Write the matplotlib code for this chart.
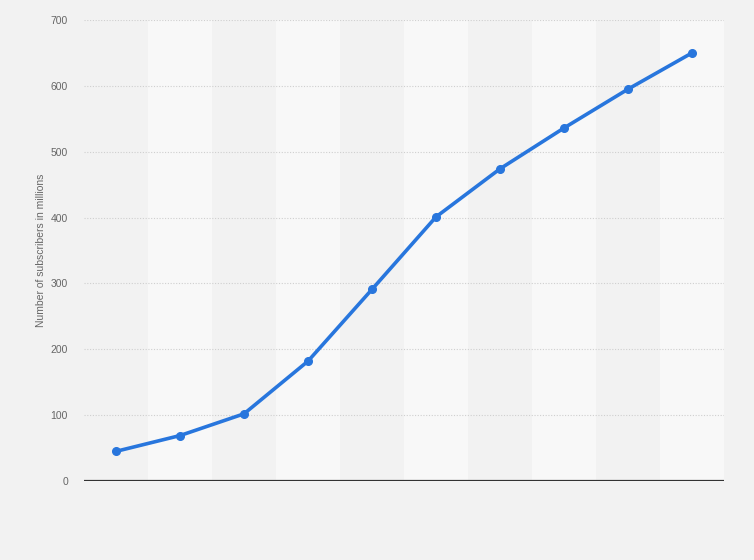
import matplotlib.pyplot as plt

plt.rcParams["font.family"] = ["Liberation Sans", "DejaVu Sans"]

# values (no x labels shown in the original)
positions = list(range(10))
subscribers = [45, 69, 102, 182, 291, 401, 474, 536, 595, 650]
y_ticks = [0, 100, 200, 300, 400, 500, 600, 700]

fig = plt.figure(figsize=(7.54, 5.6), dpi=100)
fig.patch.set_facecolor("#f2f2f2")
ax = fig.add_axes([84 / 754, 79 / 560, 640 / 754, 461 / 560])
ax.set_facecolor("#f2f2f2")

# alternating column bands
for i in positions:
    if i % 2 == 1:
        ax.axvspan(i - 0.5, i + 0.5, color="#f8f8f8", zorder=0, lw=0)

ax.set_xlim(-0.5, 9.5)
ax.set_ylim(0, 700)
ax.set_yticks(y_ticks)
ax.set_xticks([])

for y in y_ticks[1:]:
    ax.axhline(y, color="#cfcfcf", lw=0.8, ls=(0, (1, 1.5)), zorder=1)
ax.axhline(0, color="#333333", lw=1.6, zorder=3)

ax.plot(positions, subscribers, color="#2876dd", lw=2.6, marker="o",
        markersize=5.5, zorder=4, solid_capstyle="round")

for s in ax.spines.values():
    s.set_visible(False)
ax.tick_params(axis="y", length=0, pad=11.5, labelsize=7.5, labelcolor="#666666")
ax.set_ylabel("Number of subscribers in millions", fontsize=7.5, color="#666666",
              labelpad=3)

fig.savefig("out.png", dpi=100, facecolor=fig.get_facecolor())
